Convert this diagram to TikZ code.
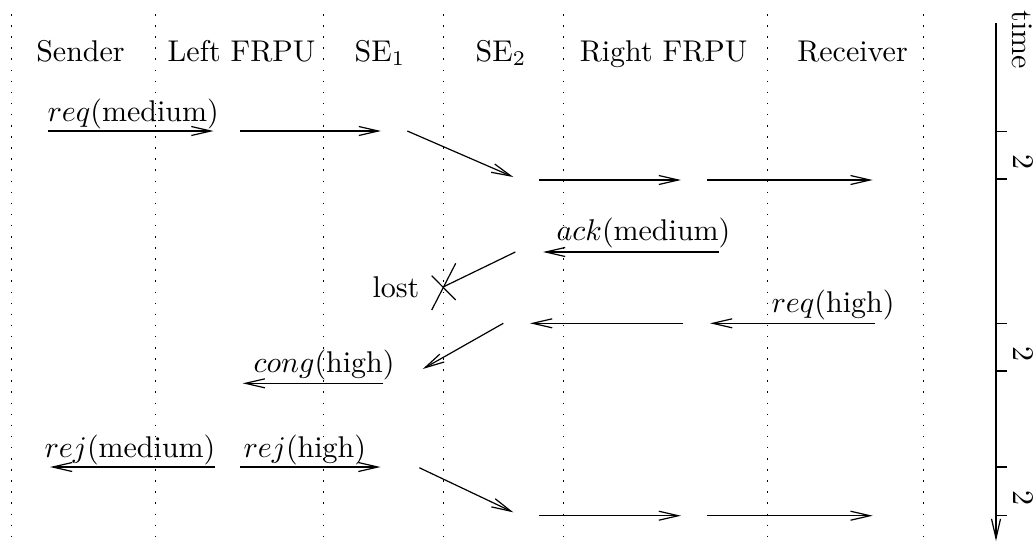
\documentclass[tikz,border=0pt]{standalone}
\usetikzlibrary{arrows.meta}
\begin{document}
\begin{tikzpicture}[x=0.33333pt, y=-0.33333pt,
  msg/.style={-{Straight Barb[length=6.5pt,width=3pt]}, line width=0.4pt},
  plainline/.style={line width=0.4pt},
  lane/.style={line width=0.5pt, dash pattern=on 0.5pt off 3.2pt},
  lbl/.style={inner sep=0pt, anchor=base west},
  hdr/.style={inner sep=0pt, anchor=base},
  rot/.style={inner sep=0pt, rotate=-90}]
\useasboundingbox (0,0) rectangle (1034,546);

% lanes
\foreach \x [count=\i] in {11.7,155.7,323.3,443.3,563.3,767.3,923.3} {
  \coordinate (lt\i) at (\x,14);
  \coordinate (lb\i) at (\x,546);
  \draw[lane] (lt\i) -- (lb\i);
}

% headers
\node[hdr] (hS)   at (80.5,61)  {Sender};
\node[hdr] (hL)   at (241.5,61) {Left FRPU};
\node[hdr] (hSE1) at (380,61)   {SE$_1$};
\node[hdr] (hSE2) at (501,61)   {SE$_2$};
\node[hdr] (hR)   at (663.5,61) {Right FRPU};
\node[hdr] (hRc)  at (852.5,61) {Receiver};

% message endpoints
\coordinate (a1s) at (47.5,131);   \coordinate (a1e) at (213.5,131);
\coordinate (a2s) at (240,131);    \coordinate (a2e) at (381,131);
\coordinate (a3s) at (407.3,131);  \coordinate (a3e) at (513.3,177);
\coordinate (a4s) at (539.3,180);  \coordinate (a4e) at (681,180);
\coordinate (a5s) at (707.3,180);  \coordinate (a5e) at (872.7,180);
\coordinate (a6s) at (719,252);    \coordinate (a6e) at (543,252);
\coordinate (a7s) at (515.3,252);  \coordinate (xc)  at (443.7,286.7);
\coordinate (a8s) at (875,323.3);  \coordinate (a8e) at (710,323.3);
\coordinate (a9s) at (683.3,323.3);\coordinate (a9e) at (530,323.3);
\coordinate (a10s) at (503.3,323.3);\coordinate (a10e) at (422.7,369);
\coordinate (a11s) at (383.3,383.3);\coordinate (a11e) at (242.7,383.3);
\coordinate (a12s) at (215,467);   \coordinate (a12e) at (50,467);
\coordinate (a13s) at (240,467);   \coordinate (a13e) at (380.5,467);
\coordinate (a14s) at (419.3,467.7);\coordinate (a14e) at (513.3,512.3);
\coordinate (a15s) at (539.3,515.7);\coordinate (a15e) at (681,515.7);
\coordinate (a16s) at (707.3,515.7);\coordinate (a16e) at (872.7,515.7);

\draw[msg] (a1s) -- (a1e);
\draw[msg] (a2s) -- (a2e);
\draw[msg] (a3s) -- (a3e);
\draw[msg] (a4s) -- (a4e);
\draw[msg] (a5s) -- (a5e);
\draw[msg] (a6s) -- (a6e);
\draw[plainline] (a7s) -- (xc);
\draw[msg] (a8s) -- (a8e);
\draw[msg] (a9s) -- (a9e);
\draw[msg] (a10s) -- (a10e);
\draw[msg] (a11s) -- (a11e);
\draw[msg] (a12s) -- (a12e);
\draw[msg] (a13s) -- (a13e);
\draw[msg] (a14s) -- (a14e);
\draw[msg] (a15s) -- (a15e);
\draw[msg] (a16s) -- (a16e);

% lost cross
\coordinate (x1a) at (431.7,310);   \coordinate (x1b) at (455.7,263.3);
\coordinate (x2a) at (431.7,275.7); \coordinate (x2b) at (455.7,300);
\draw[plainline] (x1a) -- (x1b);
\draw[plainline] (x2a) -- (x2b);
\node[inner sep=0pt, anchor=base east] (lost) at (420,297) {lost};

% labels
\node[lbl] (l1)  at (47,121)  {$req$(medium)};
\node[lbl] (l6)  at (556,240) {$ack$(medium)};
\node[lbl] (l8)  at (771,312) {$req$(high)};
\node[lbl] (l11) at (253,372) {$cong$(high)};
\node[lbl] (l12) at (44,457)  {$rej$(medium)};
\node[lbl] (l13) at (243,457) {$rej$(high)};

% time axis
\coordinate (t0) at (996,23);
\coordinate (t1) at (996,541);
\draw[msg] (t0) -- (t1);
\node[rot] (time) at (1022,40) {time};
\foreach \ya/\yb [count=\k] in {131.7/179, 323.3/371, 467/515.7} {
  \coordinate (ta\k) at (996,\ya);  \coordinate (tb\k) at (1007,\ya);
  \coordinate (tc\k) at (996,\yb);  \coordinate (td\k) at (1007,\yb);
  \draw[plainline] (ta\k) -- (tb\k);
  \draw[plainline] (tc\k) -- (td\k);
  \node[rot] (d\k) at (1023,{(\ya+\yb)/2+7}) {2};
}
\end{tikzpicture}
\end{document}
